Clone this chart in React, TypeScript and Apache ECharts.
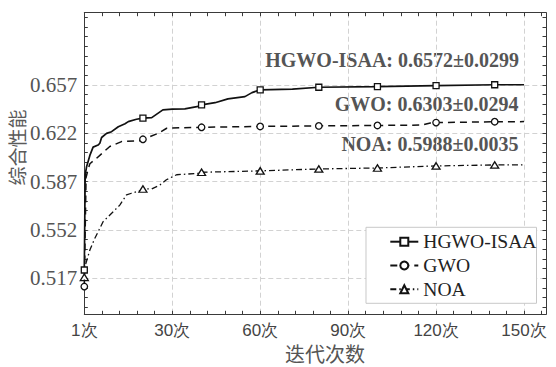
import React, { useEffect, useRef } from 'react';
import * as echarts from 'echarts';

// ---- axis ticks / labels ----
const xMajorTicks = [0, 30, 60, 90, 120, 150];
const xTickLabels = ['1次', '30次', '60次', '90次', '120次', '150次'];
const xMinorStep = 6;
const xRange = [0, 157.5];
const xAxisTitle = '迭代次数';

const yMajorTicks = [0.517, 0.552, 0.587, 0.622, 0.657];
const yMinorStep = 0.007;
const yRange = [0.4909, 0.7094];
const yAxisTitle = '综合性能';

// iterations where a marker is drawn
const markerIters = [0, 20, 40, 60, 80, 100, 120, 140];

// ---- series values ----
const hgwoIter = [0, 0.3, 0.8, 1.9, 3, 4.7, 5.3, 5.9, 7.6, 9.3, 11.6, 13.9, 15, 17.8, 20, 23, 26.8, 30, 34.3, 38.4, 40, 44.6, 49, 54.8, 57.2, 60, 71, 80, 100, 120, 140, 150];
const hgwoValue = [0.523, 0.592, 0.598, 0.606, 0.612, 0.6135, 0.6148, 0.619, 0.622, 0.6232, 0.6268, 0.629, 0.6305, 0.6322, 0.633, 0.6334, 0.639, 0.6395, 0.6397, 0.6413, 0.6426, 0.6442, 0.647, 0.6486, 0.6515, 0.6535, 0.654, 0.6554, 0.6558, 0.6566, 0.6572, 0.6572];

const gwoIter = [0, 0.6, 1.3, 1.9, 4.2, 8.7, 12.7, 19, 20, 22.4, 25.2, 28.1, 32.6, 40, 60, 80, 100, 115, 118, 120, 140, 150];
const gwoValue = [0.511, 0.59, 0.596, 0.6, 0.604, 0.6125, 0.616, 0.6167, 0.6177, 0.6196, 0.622, 0.6257, 0.626, 0.6264, 0.627, 0.6274, 0.6277, 0.628, 0.6295, 0.6298, 0.6304, 0.6305];

const noaIter = [0, 0.2, 1.9, 3.6, 5.3, 6.4, 9.9, 12.1, 14.4, 16.1, 19.3, 20, 23, 25.8, 28, 31.5, 39.4, 40, 60, 80, 100, 120, 140, 150];
const noaValue = [0.5177, 0.5254, 0.5375, 0.546, 0.5532, 0.558, 0.5653, 0.57, 0.5774, 0.5786, 0.5806, 0.5817, 0.5817, 0.5846, 0.5884, 0.592, 0.5931, 0.5938, 0.5948, 0.5962, 0.5969, 0.5984, 0.5991, 0.5992];

const seriesNames = ['HGWO-ISAA', 'GWO', 'NOA'];
const annotations = ['HGWO-ISAA: 0.6572±0.0299', 'GWO: 0.6303±0.0294', 'NOA: 0.5988±0.0035'];

const SERIF = 'Liberation Serif';
const SANS = 'Liberation Sans';
const CJK = 'Noto Sans CJK SC';

function allTicks(range: number[], step: number, anchor: number): number[] {
  const out: number[] = [];
  const kStart = Math.ceil((range[0] - anchor) / step - 1e-9);
  const kEnd = Math.floor((range[1] - anchor) / step + 1e-9);
  for (let k = kStart; k <= kEnd; k++) out.push(+(anchor + k * step).toFixed(6));
  return out;
}

function buildData(iters: number[], values: number[]) {
  return iters.map((t, i) => {
    const item: any = { value: [t, values[i]] };
    if (!markerIters.includes(t)) item.symbol = 'none';
    return item;
  });
}

export default function App() {
  const ref = useRef<HTMLDivElement>(null);

  useEffect(() => {
    if (!ref.current) return;
    const chart = echarts.init(ref.current, null, { renderer: 'svg' });

    const xAll = allTicks(xRange, xMinorStep, 0);
    const yAll = allTicks(yRange, yMinorStep, yMajorTicks[0]);

    const axisLineStyle = { color: '#3a3a3a', width: 1 };
    const tickStyle = { color: '#3a3a3a', width: 1 };
    const gridStyle = { color: '#d2d2d2', width: 1, type: [5, 3] as any };

    const baseX = { type: 'value', min: xRange[0], max: xRange[1], gridIndex: 0 };
    const baseY = { type: 'value', min: yRange[0], max: yRange[1], gridIndex: 0 };

    const annoStyle = { fontFamily: SERIF, fontWeight: 'bold', fontSize: 20, fill: '#555555', align: 'right', verticalAlign: 'middle' };

    const option: any = {
      animation: false,
      backgroundColor: '#ffffff',
      grid: { left: 84.3, right: 10, top: 12.7, bottom: 52.7 },
      xAxis: [
        {
          ...baseX,
          position: 'bottom',
          axisLine: { show: true, onZero: false, lineStyle: axisLineStyle },
          axisTick: { show: false, customValues: xMajorTicks },
          axisLabel: {
            customValues: xMajorTicks,
            margin: 8,
            fontFamily: SANS,
            fontSize: 17,
            color: '#444444',
            formatter: (v: number) => {
              const i = xMajorTicks.indexOf(v);
              return i >= 0 ? xTickLabels[i] : '';
            },
          },
          splitLine: { show: true, lineStyle: gridStyle },
        },
        {
          ...baseX,
          position: 'bottom',
          axisLine: { show: false, onZero: false },
          axisTick: { show: true, inside: true, length: 3.5, customValues: xAll, lineStyle: tickStyle },
          axisLabel: { show: false },
          splitLine: { show: false },
        },
        {
          ...baseX,
          position: 'top',
          axisLine: { show: true, onZero: false, lineStyle: axisLineStyle },
          axisTick: { show: true, inside: true, length: 3.5, customValues: xAll, lineStyle: tickStyle },
          axisLabel: { show: false },
          splitLine: { show: false },
        },
      ],
      yAxis: [
        {
          ...baseY,
          position: 'left',
          axisLine: { show: true, onZero: false, lineStyle: axisLineStyle },
          axisTick: { show: false, customValues: yMajorTicks },
          axisLabel: {
            customValues: yMajorTicks,
            margin: 7,
            fontFamily: SERIF,
            fontSize: 21,
            color: '#555555',
            formatter: (v: number) => v.toFixed(3),
          },
          splitLine: { show: true, lineStyle: gridStyle },
        },
        {
          ...baseY,
          position: 'left',
          axisLine: { show: false, onZero: false },
          axisTick: { show: true, inside: true, length: 3.5, customValues: yAll, lineStyle: tickStyle },
          axisLabel: { show: false },
          splitLine: { show: false },
        },
        {
          ...baseY,
          position: 'right',
          axisLine: { show: true, onZero: false, lineStyle: axisLineStyle },
          axisTick: { show: true, inside: true, length: 3.5, customValues: yAll, lineStyle: tickStyle },
          axisLabel: { show: false },
          splitLine: { show: false },
        },
      ],
      legend: {
        show: true,
        orient: 'vertical',
        left: 366,
        top: 227.3,
        padding: [4.4, 0, 4, 23.3],
        itemGap: 3.8,
        itemWidth: 28,
        itemHeight: 10,
        backgroundColor: '#ffffff',
        borderColor: '#c8c8c8',
        borderWidth: 1,
        borderRadius: 0,
        data: seriesNames,
        textStyle: { fontFamily: SERIF, fontSize: 19.6, lineHeight: 20, color: '#222222' },
      },
      graphic: [
        { type: 'text', x: 519, y: 60, style: { ...annoStyle, text: annotations[0] } },
        { type: 'text', x: 518.5, y: 104, style: { ...annoStyle, text: annotations[1] } },
        { type: 'text', x: 518.5, y: 144, style: { ...annoStyle, text: annotations[2] } },
        {
          type: 'text',
          x: 325,
          y: 353,
          style: { text: xAxisTitle, fontFamily: CJK, fontSize: 20, fill: '#555555', align: 'center', verticalAlign: 'middle' },
        },
        {
          type: 'text',
          x: 16.5,
          y: 147.5,
          rotation: Math.PI / 2,
          style: { text: yAxisTitle, fontFamily: CJK, fontSize: 19, fill: '#5a5a5a', align: 'center', verticalAlign: 'middle' },
        },
      ],
      series: [
        {
          name: seriesNames[0],
          type: 'line',
          xAxisIndex: 0,
          yAxisIndex: 0,
          data: buildData(hgwoIter, hgwoValue),
          symbol: 'rect',
          symbolSize: 6,
          showSymbol: true,
          showAllSymbol: true,
          lineStyle: { color: '#111111', width: 1.7, type: 'solid' },
          itemStyle: { color: '#ffffff', borderColor: '#111111', borderWidth: 1.3 },
          z: 5,
        },
        {
          name: seriesNames[1],
          type: 'line',
          xAxisIndex: 0,
          yAxisIndex: 0,
          data: buildData(gwoIter, gwoValue),
          symbol: 'circle',
          symbolSize: 6.5,
          showSymbol: true,
          showAllSymbol: true,
          lineStyle: { color: '#111111', width: 1.5, type: [7, 5] },
          itemStyle: { color: '#ffffff', borderColor: '#111111', borderWidth: 1.3 },
          z: 4,
        },
        {
          name: seriesNames[2],
          type: 'line',
          xAxisIndex: 0,
          yAxisIndex: 0,
          data: buildData(noaIter, noaValue),
          symbol: 'triangle',
          symbolSize: [8, 6.5],
          showSymbol: true,
          showAllSymbol: true,
          lineStyle: { color: '#111111', width: 1.3, type: [6, 3, 1.5, 3] },
          itemStyle: { color: '#ffffff', borderColor: '#111111', borderWidth: 1.3 },
          z: 3,
        },
      ],
    };

    chart.setOption(option);
    return () => chart.dispose();
  }, []);

  return (
    <div
      ref={ref}
      style={{ position: 'absolute', left: 0, top: 0, width: 556, height: 367, background: '#fff' }}
    />
  );
}
